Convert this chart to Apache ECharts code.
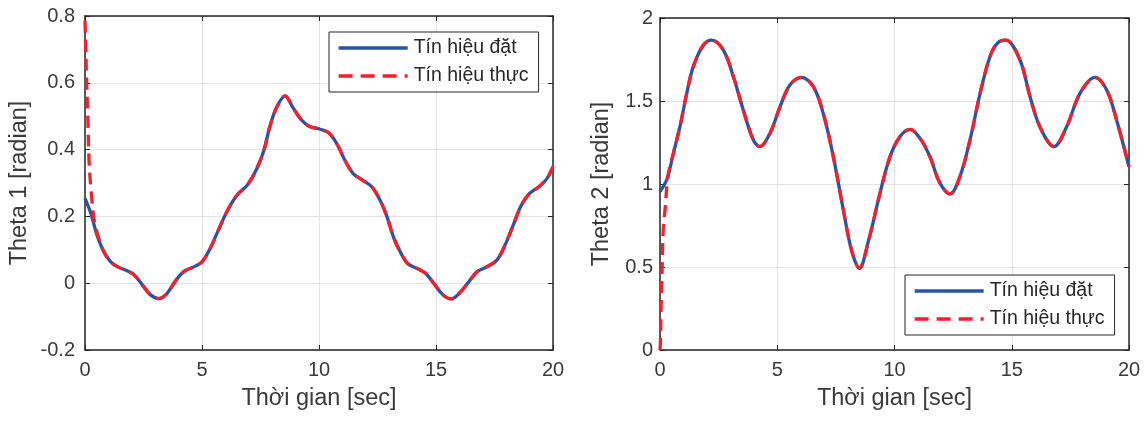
<!DOCTYPE html>
<html><head><meta charset="utf-8">
<script src="https://cdn.jsdelivr.net/npm/echarts@6/dist/echarts.min.js"></script>
<style>html,body{margin:0;padding:0;background:#fff}#c{width:1148px;height:422px}</style>
</head><body><div id="c"></div><script>
// ---- Panel 1 (Theta 1) ----
const time1 = [0,0.25,0.5,0.8,1.1,1.4,1.8,2.1,2.45,2.8,3.15,3.5,3.9,4.25,4.65,5.0,5.35,5.7,6.1,6.5,6.95,7.35,7.65,7.9,8.2,8.55,8.9,9.25,9.6,10.05,10.4,10.75,11.1,11.45,11.85,12.25,12.6,12.9,13.2,13.5,13.8,14.2,14.55,14.9,15.3,15.65,16.0,16.4,16.75,17.15,17.6,17.95,18.3,18.65,19.0,19.4,19.75,20];
const ref1 = [0.254,0.209,0.147,0.095,0.064,0.049,0.037,0.025,-0.005,-0.035,-0.046,-0.031,0.01,0.036,0.049,0.064,0.104,0.159,0.219,0.264,0.295,0.344,0.399,0.469,0.528,0.561,0.524,0.489,0.469,0.461,0.451,0.419,0.369,0.329,0.309,0.289,0.25,0.2,0.135,0.09,0.058,0.044,0.03,0.0,-0.035,-0.047,-0.03,0.004,0.034,0.048,0.069,0.114,0.174,0.234,0.269,0.289,0.314,0.349];
const actStartT1 = [0,0.04,0.07,0.12,0.18,0.27,0.37,0.5];
const actStartV1 = [0.786,0.683,0.6,0.5,0.355,0.27,0.2,0.155];
// ---- Panel 2 (Theta 2) ----
const time2 = [0,0.3,0.57,0.85,1.14,1.42,1.85,2.2,2.7,3.13,3.55,3.98,4.26,4.69,5.12,5.54,6.04,6.54,6.96,7.39,7.82,8.17,8.5,8.9,9.38,9.81,10.23,10.66,11.09,11.51,11.94,12.37,12.79,13.22,13.65,14.07,14.4,14.75,15.35,15.78,16.2,16.8,17.34,17.91,18.55,19.05,19.47,20];
const ref2 = [0.955,1.03,1.185,1.345,1.546,1.707,1.837,1.867,1.807,1.646,1.446,1.265,1.225,1.305,1.466,1.596,1.642,1.586,1.426,1.165,0.843,0.6,0.492,0.663,0.944,1.165,1.285,1.329,1.275,1.165,1.004,0.94,1.044,1.265,1.546,1.767,1.85,1.867,1.747,1.526,1.345,1.225,1.345,1.546,1.642,1.566,1.386,1.104];
const actStartT2 = [0,0.02,0.04,0.07,0.1,0.13,0.23,0.34];
const actStartV2 = [0,0.05,0.22,0.38,0.54,0.7,0.87,1.05];
// ---- Labels ----
const nameRef = 'Tín hiệu đặt';
const nameAct = 'Tín hiệu thực';
const xName = 'Thời gian [sec]';
const yName1 = 'Theta 1 [radian]';
const yName2 = 'Theta 2 [radian]';

const FONT = 'Liberation Sans, Arial, sans-serif';
const AX = '#262626';
const TXT = '#3a3a3a';
const BLUE = '#2a53a5';
const RED = '#f3212b';

function pairs(t, v){ return t.map((x,i)=>[x, v[i]]); }
function actual(tS, vS, t, v){
  const last = tS[tS.length-1];
  const head = pairs(tS, vS);
  const tail = pairs(t, v).filter(p => p[0] > last + 0.15);
  return head.concat(tail);
}

function mainX(grid){
  return {type:'value', gridIndex:grid, min:0, max:20, interval:5, position:'bottom',
    name:xName, nameLocation:'middle', nameGap:37,
    nameTextStyle:{fontSize:23.5, color:TXT, fontFamily:FONT},
    axisLine:{show:true, onZero:false, lineStyle:{color:AX, width:1.5}},
    axisTick:{show:true, inside:true, length:5, lineStyle:{color:AX, width:1}},
    axisLabel:{fontSize:20, color:TXT, fontFamily:FONT, margin:10},
    splitLine:{show:true, lineStyle:{color:'#e3e3e3', width:1}}};
}
function topX(grid){
  return {type:'value', gridIndex:grid, min:0, max:20, interval:5, position:'top',
    axisLine:{show:true, onZero:false, lineStyle:{color:AX, width:1.5}},
    axisTick:{show:true, inside:true, length:5, lineStyle:{color:AX, width:1}},
    axisLabel:{show:false}, splitLine:{show:false}};
}
function mainY(grid, min, max, interval, name, gap, margin){
  return {type:'value', gridIndex:grid, min:min, max:max, interval:interval, position:'left',
    name:name, nameLocation:'middle', nameGap:gap,
    nameTextStyle:{fontSize:23.5, color:TXT, fontFamily:FONT},
    axisLine:{show:true, onZero:false, lineStyle:{color:AX, width:1.5}},
    axisTick:{show:true, inside:true, length:5, lineStyle:{color:AX, width:1}},
    axisLabel:{fontSize:20, color:TXT, fontFamily:FONT, margin:margin,
      formatter: v => String(Math.round(v*10)/10)},
    splitLine:{show:true, lineStyle:{color:'#e3e3e3', width:1}}};
}
function rightY(grid, min, max, interval){
  return {type:'value', gridIndex:grid, min:min, max:max, interval:interval, position:'right',
    axisLine:{show:true, onZero:false, lineStyle:{color:AX, width:1.5}},
    axisTick:{show:true, inside:true, length:5, lineStyle:{color:AX, width:1}},
    axisLabel:{show:false}, splitLine:{show:false}};
}
function legendAt(left, top){
  return {data:[{name:nameRef}, {name:nameAct, lineStyle:{type:[14,8], width:3.3}}],
    left:left, top:top, orient:'vertical',
    itemWidth:69, itemHeight:14, itemGap:8, padding:[6,10,6,8],
    borderColor:AX, borderWidth:1, backgroundColor:'#fff', borderRadius:0,
    itemStyle:{color:'rgba(0,0,0,0)', borderWidth:0, borderColor:'rgba(0,0,0,0)'},
    lineStyle:{width:3.3},
    textStyle:{fontSize:19.5, color:'#262626', fontFamily:FONT, padding:[0,0,0,1]},
    selectedMode:false};
}
function lineSeries(name, data, xi, yi, color, dashed){
  return {type:'line', name:name, data:data, xAxisIndex:xi, yAxisIndex:yi,
    symbol:'none', smooth:0.35, animation:false,
    lineStyle:{color:color, width:3.3, type: dashed ? [12,7] : 'solid', cap:'butt'},
    itemStyle:{color:color}};
}

const chart = echarts.init(document.getElementById('c'), null, {renderer:'canvas'});
chart.setOption({
  animation:false,
  backgroundColor:'#fff',
  grid:[{left:85, top:16, width:468, height:334},
        {left:660, top:18, width:469, height:332}],
  xAxis:[mainX(0), topX(0), mainX(1), topX(1)],
  yAxis:[mainY(0,-0.2,0.8,0.2,yName1,53,10), rightY(0,-0.2,0.8,0.2),
         mainY(1,0,2,0.5,yName2,46,7), rightY(1,0,2,0.5)],
  legend:[legendAt(329,32), legendAt(905,275)],
  series:[
    lineSeries(nameRef, pairs(time1, ref1), 0, 0, BLUE, false),
    lineSeries(nameAct, actual(actStartT1, actStartV1, time1, ref1), 0, 0, RED, true),
    lineSeries(nameRef, pairs(time2, ref2), 2, 2, BLUE, false),
    lineSeries(nameAct, actual(actStartT2, actStartV2, time2, ref2), 2, 2, RED, true)
  ]
});
</script></body></html>
